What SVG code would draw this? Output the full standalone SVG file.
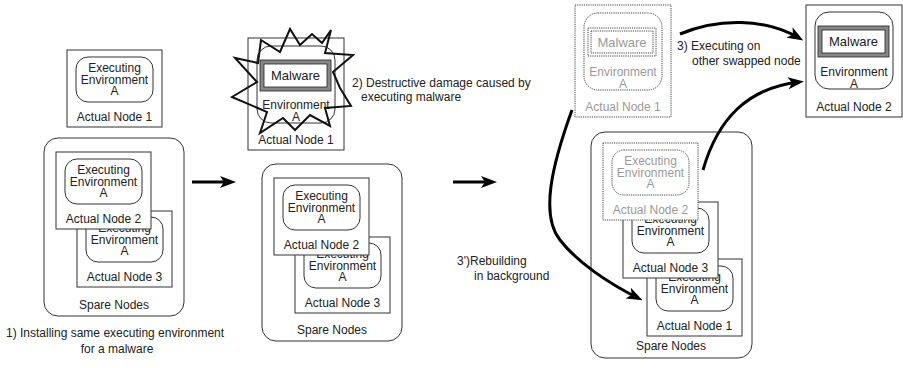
<svg xmlns="http://www.w3.org/2000/svg" width="903" height="368" viewBox="0 0 903 368">
  <style>
    text { font-family: "Liberation Sans", Arial, sans-serif; font-size: 12px; fill: #222; }
    .c { text-anchor: middle; }
    .mal { font-size: 13px; }
    .ghost-t { fill: #9a9a9a; }
    .box { fill: #fff; stroke: #333; stroke-width: 1; }
    .env { fill: #fff; stroke: #333; stroke-width: 1; }
    .spare { fill: #fff; stroke: #333; stroke-width: 1; }
    .dot { fill: #fff; stroke: #444; stroke-width: 1; stroke-dasharray: 1.2 1; }
    .dotclear { fill: none; stroke: #444; stroke-width: 1; stroke-dasharray: 1.2 1; }
    .band { fill: #fff; stroke: #888; stroke-width: 4; }
    .edge { fill: none; stroke: #222; stroke-width: 0.8; }
    .star { fill: none; stroke: #111; stroke-width: 2; stroke-linejoin: miter; }
    .flow { fill: none; stroke: #000; stroke-width: 3; marker-end: url(#head); }
  </style>
  <defs>
    <marker id="head" markerUnits="userSpaceOnUse" viewBox="0 0 16 12" markerWidth="16" markerHeight="12" refX="11" refY="6" orient="auto">
      <path d="M0,0 L16,6 L0,12 L4,6 Z" fill="#000"/>
    </marker>
  </defs>

  <!-- ===== Stage 1 ===== -->
  <g id="s1-actual-node-1">
    <rect class="box" x="67" y="50" width="95" height="77"/>
    <rect class="env" x="76" y="57" width="77" height="45" rx="12"/>
    <text class="c" x="114.5" y="72">Executing</text>
    <text class="c" x="114.5" y="84">Environment</text>
    <text class="c" x="114.5" y="95">A</text>
    <text class="c" x="114.5" y="121">Actual Node 1</text>
  </g>
  <g id="s1-spare-nodes">
    <rect class="spare" x="44" y="138" width="140" height="178" rx="14"/>
    <text class="c" x="114" y="309">Spare Nodes</text>
  </g>
  <g id="s1-actual-node-3">
    <rect class="box" x="77" y="211" width="95" height="76"/>
    <rect class="env" x="86" y="217" width="77" height="45" rx="12"/>
    <text class="c" x="124.5" y="232">Executing</text>
    <text class="c" x="124.5" y="244">Environment</text>
    <text class="c" x="124.5" y="255">A</text>
    <text class="c" x="124.5" y="281">Actual Node 3</text>
  </g>
  <g id="s1-actual-node-2">
    <rect class="box" x="56" y="152" width="95" height="77"/>
    <rect class="env" x="65" y="159" width="77" height="45" rx="12"/>
    <text class="c" x="103.5" y="174">Executing</text>
    <text class="c" x="103.5" y="186">Environment</text>
    <text class="c" x="103.5" y="197">A</text>
    <text class="c" x="103.5" y="223">Actual Node 2</text>
  </g>
  <g id="s1-caption">
    <text x="6" y="337">1) Installing same executing environment</text>
    <text class="c" x="117" y="353">for a malware</text>
  </g>

  <!-- ===== Stage 2 ===== -->
  <g id="s2-actual-node-1">
    <rect class="box" x="248" y="38" width="96" height="112"/>
    <rect class="env" x="257" y="46" width="78" height="77" rx="14"/>
    <rect class="band" x="262" y="62" width="67" height="27"/>
    <rect class="edge" x="260" y="60" width="71" height="31"/>
    <rect class="edge" x="264" y="64" width="63" height="23"/>
    <text class="c mal" x="295.5" y="80">Malware</text>
    <text class="c" x="296" y="109">Environment</text>
    <text class="c" x="296" y="121">A</text>
    <text class="c" x="296" y="144">Actual Node 1</text>
    <polygon class="star" points="261,40 280,52 290,29 300,45 312,34 322,43 331,30 325,53 353,55 333,72 340,88 351,106 325,108 330,126 310,115 295,130 283,118 260,133 267,112 232,97 257,82 235,58 258,63"/>
  </g>
  <g id="s2-caption">
    <text x="352" y="87">2) Destructive damage caused by</text>
    <text x="361" y="101">executing malware</text>
  </g>
  <g id="s2-spare-nodes">
    <rect class="spare" x="262" y="164" width="140" height="177" rx="14"/>
    <text class="c" x="332" y="334">Spare Nodes</text>
  </g>
  <g id="s2-actual-node-3">
    <rect class="box" x="295" y="237" width="95" height="76"/>
    <rect class="env" x="304" y="243" width="77" height="45" rx="12"/>
    <text class="c" x="342.5" y="258">Executing</text>
    <text class="c" x="342.5" y="270">Environment</text>
    <text class="c" x="342.5" y="281">A</text>
    <text class="c" x="342.5" y="307">Actual Node 3</text>
  </g>
  <g id="s2-actual-node-2">
    <rect class="box" x="274" y="178" width="95" height="77"/>
    <rect class="env" x="283" y="185" width="77" height="45" rx="12"/>
    <text class="c" x="321.5" y="200">Executing</text>
    <text class="c" x="321.5" y="212">Environment</text>
    <text class="c" x="321.5" y="223">A</text>
    <text class="c" x="321.5" y="249">Actual Node 2</text>
  </g>

  <!-- ===== Stage 3 ===== -->
  <g id="s3-old-node-1">
    <rect class="dot" x="575" y="5" width="96" height="112"/>
    <rect class="dotclear" x="584" y="13" width="78" height="77" rx="14"/>
    <rect class="dotclear" x="588" y="28" width="68" height="28"/>
    <rect class="dotclear" x="591" y="31" width="62" height="22"/>
    <text class="c mal ghost-t" x="622" y="47">Malware</text>
    <text class="c ghost-t" x="623" y="76">Environment</text>
    <text class="c ghost-t" x="623" y="88">A</text>
    <text class="c ghost-t" x="623" y="111">Actual Node 1</text>
  </g>
  <g id="s3-actual-node-2">
    <rect class="box" x="806" y="5" width="96" height="112"/>
    <rect class="env" x="815" y="12" width="78" height="77" rx="14"/>
    <rect class="band" x="820" y="28" width="67" height="27"/>
    <rect class="edge" x="818" y="26" width="71" height="31"/>
    <rect class="edge" x="822" y="30" width="63" height="23"/>
    <text class="c mal" x="853.5" y="46">Malware</text>
    <text class="c" x="854" y="76">Environment</text>
    <text class="c" x="854" y="88">A</text>
    <text class="c" x="854" y="111">Actual Node 2</text>
  </g>
  <g id="s3-caption">
    <text x="677" y="50">3) Executing on</text>
    <text x="692" y="65">other swapped node</text>
    <text x="457" y="265">3')Rebuilding</text>
    <text x="474" y="280">in background</text>
  </g>
  <g id="s3-spare-nodes">
    <rect class="spare" x="591" y="132" width="161" height="226" rx="14"/>
    <text class="c" x="671" y="350">Spare Nodes</text>
  </g>
  <g id="s3-actual-node-1">
    <rect class="box" x="647" y="259" width="95" height="77"/>
    <rect class="env" x="656" y="266" width="77" height="45" rx="12"/>
    <text class="c" x="694.5" y="281">Executing</text>
    <text class="c" x="694.5" y="293">Environment</text>
    <text class="c" x="694.5" y="304">A</text>
    <text class="c" x="694.5" y="330">Actual Node 1</text>
  </g>
  <g id="s3-actual-node-3">
    <rect class="box" x="623" y="202" width="95" height="76"/>
    <rect class="env" x="632" y="208" width="77" height="45" rx="12"/>
    <text class="c" x="670.5" y="223">Executing</text>
    <text class="c" x="670.5" y="235">Environment</text>
    <text class="c" x="670.5" y="246">A</text>
    <text class="c" x="670.5" y="272">Actual Node 3</text>
  </g>
  <g id="s3-old-node-2">
    <rect class="dot" x="603" y="143" width="95" height="77"/>
    <rect class="dotclear" x="612" y="150" width="77" height="45" rx="12"/>
    <text class="c ghost-t" x="650.5" y="165">Executing</text>
    <text class="c ghost-t" x="650.5" y="177">Environment</text>
    <text class="c ghost-t" x="650.5" y="188">A</text>
    <text class="c ghost-t" x="650.5" y="214">Actual Node 2</text>
  </g>

  <!-- ===== Connectors ===== -->
  <g id="connectors">
    <path class="flow" d="M192,182 L231,182"/>
    <path class="flow" d="M453,182 L492,182"/>
    <path class="flow" d="M680,34 C718,18 765,18 799,38"/>
    <path class="flow" d="M703,170 C718,118 748,88 799,82"/>
    <path class="flow" d="M572,110 C552,165 540,215 560,240 C577,262 608,283 638,298"/>
  </g>
</svg>
